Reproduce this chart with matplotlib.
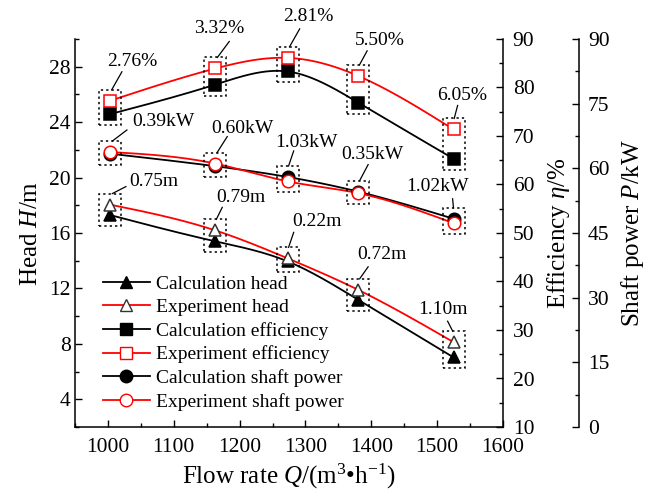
import numpy as np
import matplotlib
matplotlib.use("Agg")
import matplotlib.pyplot as plt
from matplotlib.lines import Line2D
from matplotlib.patches import Rectangle
from matplotlib.transforms import IdentityTransform

plt.rcParams['font.family'] = ['Liberation Serif', 'DejaVu Serif']
plt.rcParams['mathtext.fontset'] = 'custom'
plt.rcParams['mathtext.rm'] = 'Liberation Serif'
plt.rcParams['mathtext.it'] = 'Liberation Serif:italic'
plt.rcParams['mathtext.bf'] = 'Liberation Serif:bold'

# ---- data ----
flow_rate = [1003, 1163, 1273, 1380, 1525]

head_calc = [17.30, 15.40, 13.95, 11.18, 7.02]
head_exp = [18.05, 16.19, 14.17, 11.90, 8.12]
head_err = ["0.75m", "0.79m", "0.22m", "0.72m", "1.10m"]

eff_calc = [74.5, 80.6, 83.3, 76.9, 65.3]
eff_exp = [77.26, 83.92, 86.11, 82.40, 71.35]
eff_err = ["2.76%", "3.32%", "2.81%", "5.50%", "6.05%"]

power_calc = [63.4, 60.5, 58.0, 54.6, 48.3]
power_exp = [63.79, 61.10, 56.97, 54.25, 47.28]
power_err = ["0.39kW", "0.60kW", "1.03kW", "0.35kW", "1.02kW"]

RED = '#ff0000'
BLACK = '#000000'


def smooth(x, y, n=300):
    """Natural cubic spline through the given points, for drawing the curve."""
    x = np.asarray(x, float)
    y = np.asarray(y, float)
    m = len(x)
    h = np.diff(x)
    A = np.zeros((m, m))
    r = np.zeros(m)
    A[0, 0] = A[-1, -1] = 1.0
    for i in range(1, m - 1):
        A[i, i - 1] = h[i - 1]
        A[i, i] = 2 * (h[i - 1] + h[i])
        A[i, i + 1] = h[i]
        r[i] = 3 * ((y[i + 1] - y[i]) / h[i] - (y[i] - y[i - 1]) / h[i - 1])
    c = np.linalg.solve(A, r)
    b = (y[1:] - y[:-1]) / h - h * (2 * c[:-1] + c[1:]) / 3
    d = (c[1:] - c[:-1]) / (3 * h)
    xs = np.linspace(x[0], x[-1], n)
    idx = np.clip(np.searchsorted(x, xs, side='right') - 1, 0, m - 2)
    dx = xs - x[idx]
    ys = y[idx] + b[idx] * dx + c[idx] * dx ** 2 + d[idx] * dx ** 3
    return xs, ys


W, H, DPI = 646, 493, 100
fig = plt.figure(figsize=(W / DPI, H / DPI), dpi=DPI)
L, R, B, T = 75, 503, 427, 39
ax = fig.add_axes([L / W, 1 - B / H, (R - L) / W, (B - T) / H])
ax2 = ax.twinx()
ax3 = ax.twinx()
ax3.spines['right'].set_position(('outward', 76 * 72 / DPI))

LW = 1.3
MS = 9
TICK_FS = 15.5
LABEL_FS = 18


def series(a, y, color, marker, mfc, mec):
    xs, ys = smooth(flow_rate, y)
    a.plot(xs, ys, color=color, lw=LW, zorder=3)
    a.plot(flow_rate, y, ls='none', marker=marker, ms=MS, mfc=mfc, mec=mec,
           mew=1.1, zorder=4)


series(ax, head_calc, BLACK, '^', BLACK, BLACK)
series(ax, head_exp, RED, '^', 'white', '#333333')
series(ax2, eff_calc, BLACK, 's', BLACK, BLACK)
series(ax2, eff_exp, RED, 's', 'white', RED)
series(ax3, power_calc, BLACK, 'o', BLACK, BLACK)
series(ax3, power_exp, RED, 'o', 'white', RED)

# ---- axes ----
ax.set_xlim(950, 1600)
ax.set_ylim(2, 30)
ax2.set_ylim(10, 90)
ax3.set_ylim(0, 90)
ax.set_xticks(np.arange(1000, 1601, 100))
ax.set_xticks(np.arange(950, 1601, 50), minor=True)
ax.set_yticks(np.arange(4, 29, 4))
ax.set_yticks(np.arange(2, 31, 2), minor=True)
ax2.set_yticks(np.arange(10, 91, 10))
ax2.set_yticks(np.arange(10, 91, 5), minor=True)
ax3.set_yticks(np.arange(0, 91, 15))
ax3.set_yticks(np.arange(0, 91, 7.5), minor=True)

for a in (ax, ax2, ax3):
    a.spines['top'].set_visible(False)
    a.tick_params(which='both', direction='in', width=1.0, labelsize=TICK_FS,
                  color=BLACK)
    a.tick_params(which='major', length=5)
    a.tick_params(which='minor', length=3)
    for s in a.spines.values():
        s.set_linewidth(1.1)
ax.tick_params(axis='x', which='major', pad=8)
ax.tick_params(axis='y', which='major', pad=3)
ax2.tick_params(axis='y', which='major', pad=7)
ax3.tick_params(axis='y', which='major', pad=6.5)
ax.spines['right'].set_visible(False)
ax2.spines['left'].set_visible(False)
ax3.spines['left'].set_visible(False)
ax2.spines['bottom'].set_visible(False)
ax3.spines['bottom'].set_visible(False)

ax.set_xlabel(r'Flow rate $Q$/(m$^{3}$•h$^{-1}$)', fontsize=LABEL_FS, labelpad=3.5)
ax.set_ylabel(r'Head $H$/m', fontsize=LABEL_FS)
ax2.set_ylabel(r'Efficiency $\eta$/%', fontsize=LABEL_FS)
ax3.set_ylabel(r'Shaft power $P$/kW', fontsize=LABEL_FS)
ax.yaxis.set_label_coords(-0.077, 0.5)
ax2.yaxis.set_label_coords(1.098, 0.5)
ax3.yaxis.set_label_coords(1.272, 0.5)

# ---- legend ----
handles = [
    Line2D([], [], color=BLACK, lw=LW, marker='^', ms=MS, mfc=BLACK, mec=BLACK),
    Line2D([], [], color=RED, lw=LW, marker='^', ms=MS, mfc='white', mec='#333333'),
    Line2D([], [], color=BLACK, lw=LW, marker='s', ms=MS, mfc=BLACK, mec=BLACK),
    Line2D([], [], color=RED, lw=LW, marker='s', ms=MS, mfc='white', mec=RED),
    Line2D([], [], color=BLACK, lw=LW, marker='o', ms=MS, mfc=BLACK, mec=BLACK),
    Line2D([], [], color=RED, lw=LW, marker='o', ms=MS, mfc='white', mec=RED),
]
labels = ['Calculation head', 'Experiment head', 'Calculation efficiency',
          'Experiment efficiency', 'Calculation shaft power',
          'Experiment shaft power']
leg = ax3.legend(handles, labels, loc='upper left',
                 bbox_to_anchor=(103 / W, 1 - 275 / H),
                 bbox_transform=fig.transFigure, frameon=False,
                 fontsize=14, handlelength=2.4, handletextpad=0.3,
                 labelspacing=0.3, borderpad=0, borderaxespad=0)
leg.set_zorder(10)

# ---- dotted boxes and deviation labels ----
fig.canvas.draw()
ident = IdentityTransform()
PAD_X, PAD_Y = 11, 11

# (leader end dx, dy, text centre dx, dy) in pixels from the box top centre,
# y measured downward
eff_offsets = [(12, -18, 22, -28), (14, -16, 4, -29), (12, -18, 21, -30),
               (9, -14, 22, -24), (4, -13, 9, -23)]
pow_offsets = [(17, -11, 53, -19), (12, -16, 27, -24), (6, -15, 19, -23),
               (10, -16, 14, -26), (-1, -9, -16, -21)]
head_offsets = [(16, -7, 44, -12), (7, -12, 26, -22), (6, -15, 29, -26),
                (10, -12, 24, -24), (-6, -10, -11, -22)]


def boxes(a, calc, exp, texts, offsets):
    for x, yc, ye, txt, off in zip(flow_rate, calc, exp, texts, offsets):
        p1 = a.transData.transform((x, yc))
        p2 = a.transData.transform((x, ye))
        cx = (p1[0] + p2[0]) / 2
        top = max(p1[1], p2[1]) + PAD_Y
        bot = min(p1[1], p2[1]) - PAD_Y
        fig.add_artist(Rectangle((cx - PAD_X, bot), 2 * PAD_X, top - bot,
                                 transform=ident, fill=False, ec=BLACK,
                                 lw=1.1, ls=(0, (1.5, 2.0)), zorder=5))
        ldx, ldy, tdx, tdy = off
        fig.add_artist(Line2D([cx + ldx * 0.15, cx + ldx], [top, top - ldy],
                              transform=ident, color=BLACK, lw=0.9, zorder=5))
        fig.text(cx + tdx, top - tdy, txt, transform=ident, fontsize=14,
                 ha='center', va='center', zorder=6)


boxes(ax2, eff_calc, eff_exp, eff_err, eff_offsets)
boxes(ax3, power_calc, power_exp, power_err, pow_offsets)
boxes(ax, head_calc, head_exp, head_err, head_offsets)

fig.savefig('out.png', dpi=DPI)
